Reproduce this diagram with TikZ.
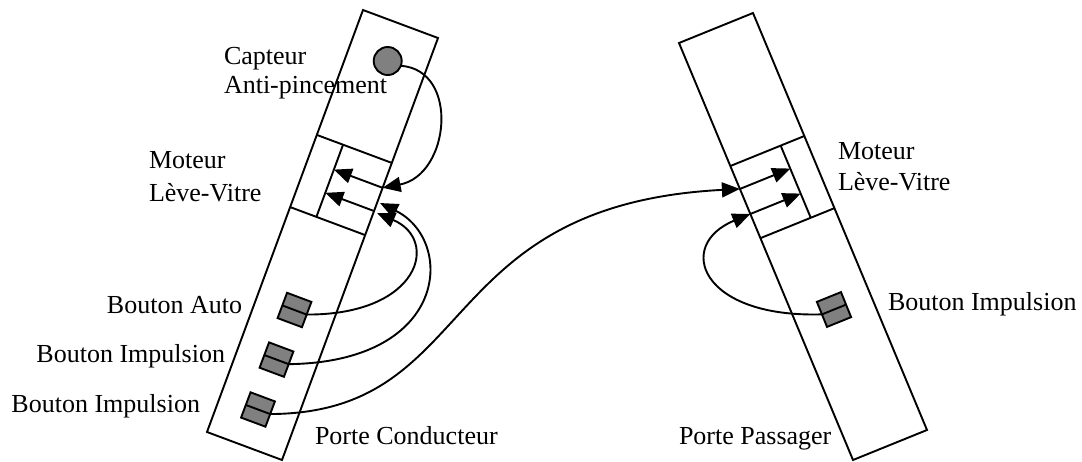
\documentclass[tikz,border=0pt]{standalone}
\usepackage{fontspec}
\setmainfont{Liberation Serif}
\usetikzlibrary{arrows.meta,calc}
\definecolor{btngray}{RGB}{128,128,128}
\begin{document}
\begin{tikzpicture}[x=1pt,y=-1pt, line width=1.9pt,
  lbl/.style={inner sep=0pt, outer sep=0pt, font=\fontsize{26}{30}\selectfont},
  btn/.style={draw, fill=btngray, rectangle, minimum width=26pt, minimum height=27pt, inner sep=0pt, outer sep=0pt},
  sensor/.style={draw, fill=btngray, circle, minimum size=28pt, inner sep=0pt, outer sep=0pt},
  arr/.style={-{Triangle[length=18pt,width=15pt]}}]
\useasboundingbox (0,0) rectangle (1082,461);

% ---------- Porte Conducteur ----------
\begin{scope}[shift={(363,10)}, x={(75pt,-28pt)}, y={(-156pt,-422pt)}]
  \draw (0,0) -- (1,0) -- (1,1) -- (0,1) -- cycle;
  \draw (0,.296) -- (1,.296);
  \draw (0,.467) -- (1,.467);
  \draw (.35,.296) -- (.35,.467);
  \coordinate (LA1s) at (1,.355);
  \coordinate (LA1t) at (.35,.355);
  \coordinate (LA2s) at (1,.41);
  \coordinate (LA2t) at (.35,.41);
\end{scope}
\draw[arr] (LA1s) -- (LA1t);
\draw[arr] (LA2s) -- (LA2t);
\coordinate (LA2u) at ($(LA2s)+(6,-8)$);
\coordinate (LA2d) at ($(LA2s)+(3,2)$);

% ---------- Porte Passager ----------
\begin{scope}[shift={(679,43)}, x={(74pt,30pt)}, y={(174pt,-417pt)}]
  \draw (0,0) -- (1,0) -- (1,1) -- (0,1) -- cycle;
  \draw (0,.295) -- (1,.295);
  \draw (0,.468) -- (1,.468);
  \draw (.68,.295) -- (.68,.468);
  \coordinate (PA1s) at (0,.35);
  \coordinate (PA1t) at (.68,.35);
  \coordinate (PA2s) at (0,.41);
  \coordinate (PA2t) at (.68,.41);
\end{scope}
\draw[arr] (PA1s) -- (PA1t);
\draw[arr] (PA2s) -- (PA2t);

% ---------- capteur et boutons ----------
\node[sensor] (cap) at (387.7,61) {};
\node[btn, rotate=-20.5] (bauto) at (294.5,310) {};
\node[btn, rotate=-20.5] (bimp1) at (276.5,359.6) {};
\node[btn, rotate=-20.5] (bimp2) at (258,409.5) {};
\node[btn, rotate=22] (bpass) at (834,309.5) {};
\foreach \b in {bauto,bimp1,bimp2,bpass}
  \draw (\b.west) -- (\b.east);

% ---------- liaisons ----------
\draw[arr] (cap.-20) .. controls (460,70) and (450,175) .. (LA1s);
\draw[arr] (bauto.east) .. controls (420,315) and (440,240) .. (LA2d);
\draw[arr] (bimp1.east) .. controls (450,362) and (455,240) .. (LA2u);
\draw[arr] (bimp2.east) .. controls (480,413) and (430,205) .. (PA1s);
\draw[arr] (bpass.west) .. controls (700,318) and (675,245) .. (PA2s);

% ---------- textes ----------
\node[lbl, anchor=base west] (t1) at (224,64) {Capteur};
\node[lbl, anchor=base west] (t2) at (224,93) {Anti-pincement};
\node[lbl, anchor=base west] (t3) at (149,168) {Moteur};
\node[lbl, anchor=base west] (t4) at (149,201) {Lève-Vitre};
\node[lbl, anchor=base west] (t5) at (838,159) {Moteur};
\node[lbl, anchor=base west] (t6) at (838,190) {Lève-Vitre};
\node[lbl, anchor=base east] (t7) at (242,313) {Bouton Auto};
\node[lbl, anchor=base east] (t8) at (225,362) {Bouton Impulsion};
\node[lbl, anchor=base east] (t9) at (200,412) {Bouton Impulsion};
\node[lbl, anchor=base west] (t10) at (888,310) {Bouton Impulsion};
\node[lbl, anchor=base west] (t11) at (315,444) {Porte Conducteur};
\node[lbl, anchor=base west] (t12) at (679,444) {Porte Passager};
\end{tikzpicture}
\end{document}
